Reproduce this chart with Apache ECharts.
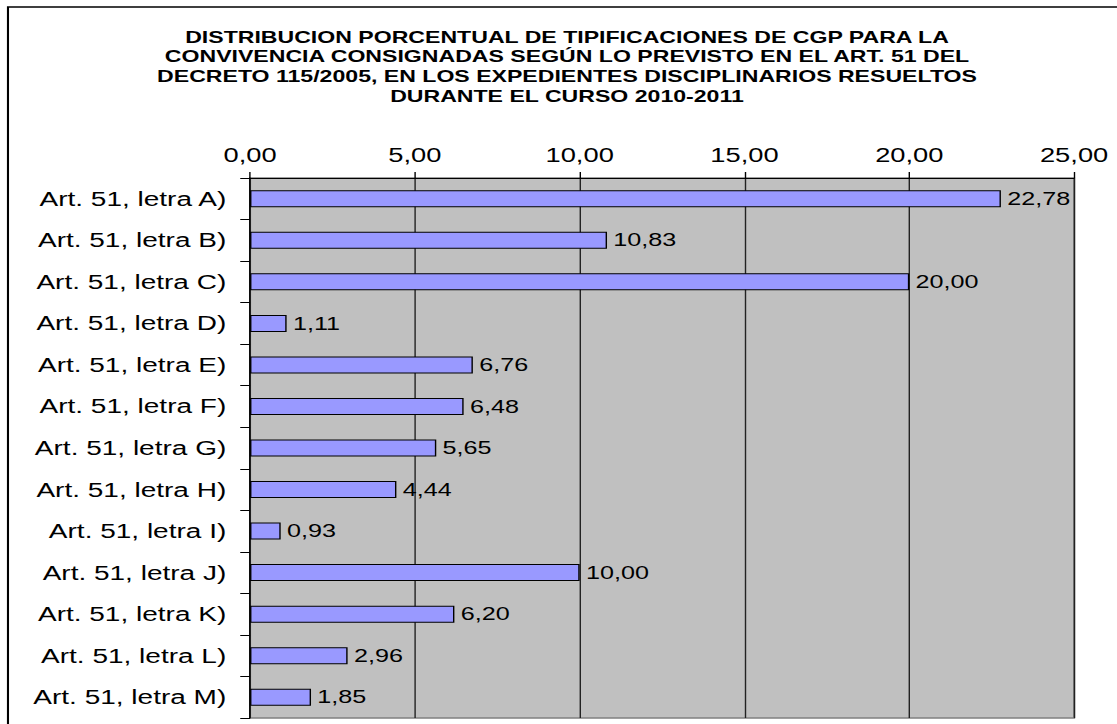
<!DOCTYPE html>
<html>
<head>
<meta charset="utf-8">
<script src="https://cdn.jsdelivr.net/npm/echarts@6/dist/echarts.min.js"></script>
<style>
  html, body { margin: 0; padding: 0; background: #fff; overflow: hidden; }
  #wrap { width: 1117px; height: 724px; position: relative; overflow: hidden; }
  /* the source picture is stretched sideways, so the chart is drawn narrow and scaled */
  #chart { width: 798px; height: 724px; transform: scaleX(1.4); transform-origin: 0 0; }
</style>
</head>
<body>
<div id="wrap"><div id="chart"></div></div>
<script>
const categories = [
  "Art. 51, letra A)", "Art. 51, letra B)", "Art. 51, letra C)", "Art. 51, letra D)",
  "Art. 51, letra E)", "Art. 51, letra F)", "Art. 51, letra G)", "Art. 51, letra H)",
  "Art. 51, letra I)", "Art. 51, letra J)", "Art. 51, letra K)", "Art. 51, letra L)",
  "Art. 51, letra M)"
];
const values = [22.78, 10.83, 20.00, 1.11, 6.76, 6.48, 5.65, 4.44, 0.93, 10.00, 6.20, 2.96, 1.85];
const axisMin = 0;
const axisMax = 25;
const axisStep = 5;
const titleText = "DISTRIBUCION PORCENTUAL DE TIPIFICACIONES DE CGP PARA LA\n" +
  "CONVIVENCIA CONSIGNADAS SEGÚN LO PREVISTO EN EL ART. 51 DEL\n" +
  "DECRETO 115/2005, EN LOS EXPEDIENTES DISCIPLINARIOS RESUELTOS\n" +
  "DURANTE EL CURSO 2010-2011";

const fmt = (v) => Number(v).toFixed(2).replace(".", ",");
const font = "'Liberation Sans', Arial, sans-serif";

const chart = echarts.init(document.getElementById("chart"), null, { renderer: "svg" });

chart.setOption({
  animation: false,
  backgroundColor: "#fff",
  title: {
    text: titleText,
    left: 400,
    textAlign: "center",
    top: 22,
    textStyle: { fontFamily: font, fontSize: 16.5, fontWeight: "bold", color: "#000", lineHeight: 19.7 }
  },
  graphic: [{
    type: "rect",
    shape: { x: 5.7, y: 7, width: 900, height: 800 },
    style: { fill: "none", stroke: "#000", lineWidth: 1.5 },
    silent: true
  }],
  grid: {
    left: 178.6, right: 30.8, top: 178, bottom: 6,
    show: true, backgroundColor: "#c0c0c0", borderColor: "#808080", borderWidth: 1.5
  },
  xAxis: {
    type: "value",
    position: "top",
    min: axisMin, max: axisMax, interval: axisStep,
    axisLine: { show: true, lineStyle: { color: "#000", width: 1 } },
    axisTick: { show: true, length: 6, lineStyle: { color: "#000" } },
    axisLabel: { formatter: fmt, fontFamily: font, fontSize: 19.5, color: "#000", margin: 13 },
    splitLine: { show: true, lineStyle: { color: "#222", width: 1 } }
  },
  yAxis: {
    type: "category",
    data: categories,
    inverse: true,
    axisLine: { show: true, lineStyle: { color: "#000", width: 1 } },
    axisTick: { show: true, length: 7, lineStyle: { color: "#000" } },
    axisLabel: { fontFamily: font, fontSize: 20, color: "#000", margin: 17 },
    splitLine: { show: false }
  },
  series: [{
    type: "bar",
    data: values,
    barWidth: 17,
    itemStyle: { color: "#9999ff", borderColor: "#000", borderWidth: 1 },
    label: {
      show: true, position: "right", distance: 4.5,
      formatter: (p) => fmt(p.value),
      fontFamily: font, fontSize: 18, color: "#000"
    }
  }]
});
</script>
</body>
</html>
